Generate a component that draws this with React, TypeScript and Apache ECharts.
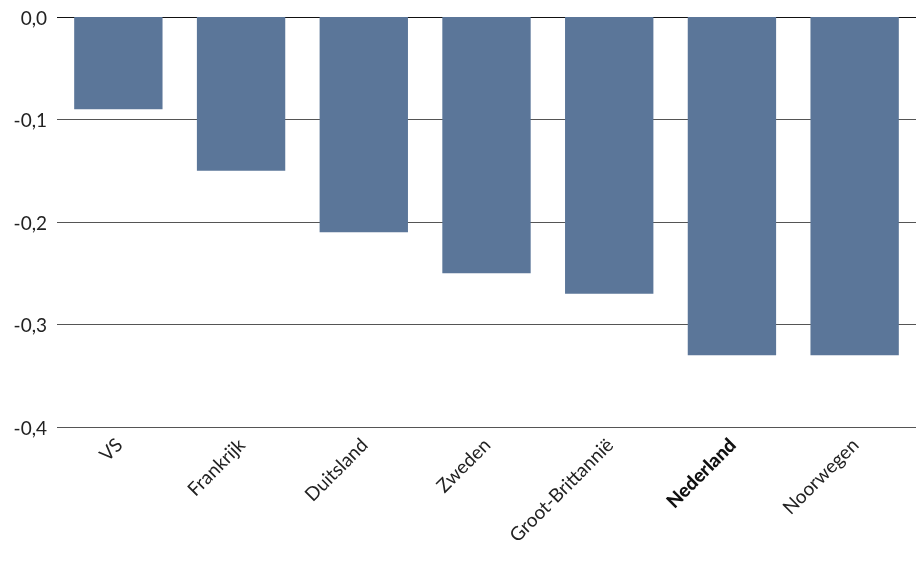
import React, { useEffect, useRef } from 'react';
import * as echarts from 'echarts';

const categories = ['VS', 'Frankrijk', 'Duitsland', 'Zweden', 'Groot-Brittannië', 'Nederland', 'Noorwegen'];
const values = [-0.09, -0.15, -0.21, -0.25, -0.27, -0.33, -0.33];
const highlight = 'Nederland';

const App = () => {
  const chartRef = useRef<HTMLDivElement>(null);

  useEffect(() => {
    if (!chartRef.current) return;
    const chart = echarts.init(chartRef.current, undefined, { renderer: 'svg' });
    chart.setOption({
      animation: false,
      grid: { left: 57, right: 0, top: 17, bottom: 139 },
      xAxis: {
        type: 'category',
        data: categories,
        axisLine: { show: false },
        axisTick: { show: false },
        axisLabel: {
          rotate: 45,
          margin: 14,
          fontSize: 19,
          color: '#222',
          fontFamily: 'Lato',
          interval: 0,
          formatter: (v: string) => (v === highlight ? `{b|${v}}` : v),
          rich: { b: { fontWeight: 900, fontSize: 19, color: '#111', fontFamily: 'Lato' } },
        },
      },
      yAxis: {
        type: 'value',
        min: -0.4,
        max: 0,
        interval: 0.1,
        axisLine: { show: false },
        axisTick: { show: false },
        splitLine: { lineStyle: { color: ['#555', '#555', '#555', '#555', '#111'], width: 1 } },
        axisLabel: {
          fontSize: 19,
          color: '#222',
          fontFamily: 'Lato',
          margin: 10,
          formatter: (v: number) => v.toFixed(1).replace('.', ','),
        },
      },
      series: [
        {
          type: 'bar',
          data: values,
          barWidth: '72%',
          itemStyle: { color: '#5b7699' },
        },
      ],
    });
    return () => chart.dispose();
  }, []);

  return <div ref={chartRef} style={{ position: 'fixed', left: 0, top: 0, width: 916, height: 566 }} />;
};

export default App;
